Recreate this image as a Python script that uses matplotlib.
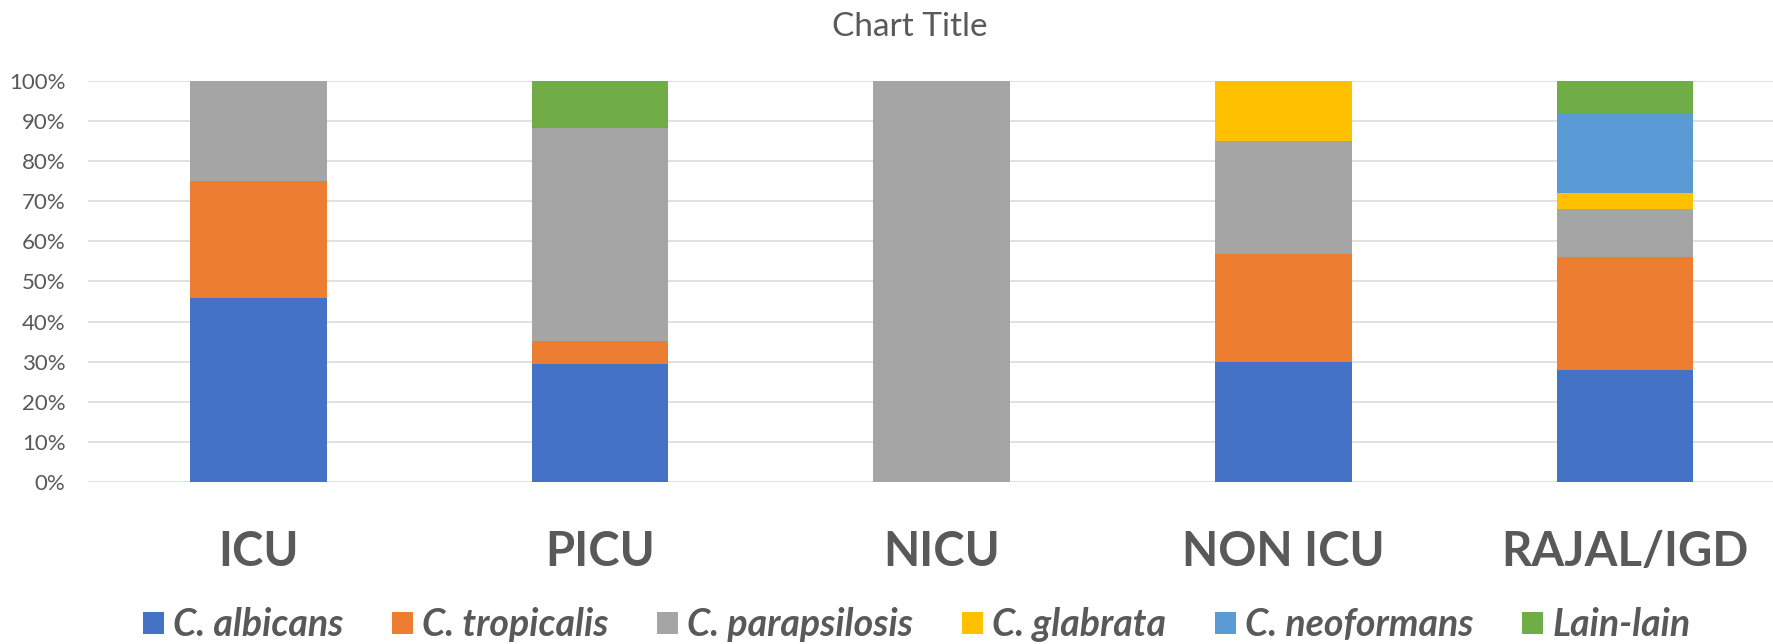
import matplotlib
matplotlib.use("Agg")
import matplotlib.pyplot as plt
import numpy as np

plt.rcParams['font.family'] = ['Lato', 'DejaVu Sans']

categories = ["ICU", "PICU", "NICU", "NON ICU", "RAJAL/IGD"]
species = ["C. albicans", "C. tropicalis", "C. parapsilosis",
           "C. glabrata", "C. neoformans", "Lain-lain"]

# percentage share per unit (one list per species)
albicans = [45.8, 29.4, 0.0, 30.0, 28.0]
tropicalis = [29.2, 5.9, 0.0, 26.9, 28.0]
parapsilosis = [25.0, 52.9, 100.0, 28.0, 12.0]
glabrata = [0.0, 0.0, 0.0, 15.1, 4.0]
neoformans = [0.0, 0.0, 0.0, 0.0, 20.0]
lain_lain = [0.0, 11.8, 0.0, 0.0, 8.0]

colors = ["#4472C4", "#ED7D31", "#A5A5A5", "#FFC000", "#5B9BD5", "#70AD47"]
text_color = "#595959"

fig = plt.figure(figsize=(17.73, 6.44), dpi=100)
ax = fig.add_axes([0.0494, 0.2511, 0.9634, 0.6236])

x = np.arange(len(categories))
bottom = np.zeros(len(categories))
series = [albicans, tropicalis, parapsilosis, glabrata, neoformans, lain_lain]
for name, vals, col in zip(species, series, colors):
    vals = np.array(vals)
    ax.bar(x, vals, width=0.4, bottom=bottom, color=col, label=name,
           zorder=3)
    bottom += vals

ax.set_xlim(-0.5, len(categories) - 0.5)
ax.set_ylim(0, 100)
ax.set_yticks(np.arange(0, 101, 10))
ax.set_yticklabels([f"{v}%" for v in range(0, 101, 10)])
ax.grid(axis="y", color="#D9D9D9", linewidth=1.1, zorder=0)
ax.set_xticks(x)
ax.set_xticklabels(categories, fontsize=34, fontweight="bold", color=text_color)
ax.tick_params(axis="x", length=0, pad=34)
ax.tick_params(axis="y", length=0, pad=16, labelsize=16, labelcolor=text_color)
for s in ax.spines.values():
    s.set_visible(False)

fig.text(0.513, 0.958, "Chart Title", ha="center", va="center",
         fontsize=24, color=text_color)

leg = fig.legend(loc="center", bbox_to_anchor=(0.517, 0.03), ncol=6,
                 frameon=False, handlelength=0.55, handleheight=0.55,
                 handletextpad=0.25, columnspacing=1.3,
                 prop={"size": 27, "style": "italic", "weight": "bold"})
for t in leg.get_texts():
    t.set_color(text_color)

fig.savefig("out.png", dpi=100)
